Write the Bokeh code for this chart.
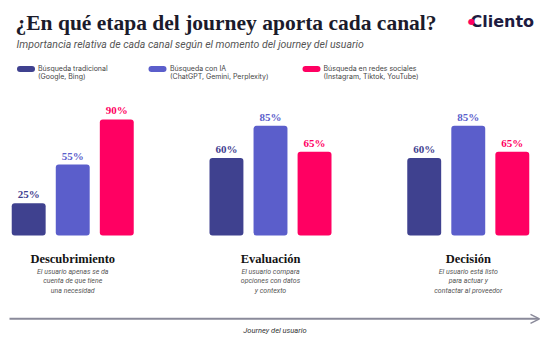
from bokeh.plotting import figure
from bokeh.models import (FactorRange, Range1d, ColumnDataSource, Label,
                          BoxAnnotation, Arrow, OpenHead)
from bokeh.core.properties import value
from bokeh.embed import file_html
from bokeh.resources import INLINE

# ---------------- data ----------------
stages = ["Descubrimiento", "Evaluación", "Decisión"]
channels = ["Búsqueda tradicional", "Búsqueda con IA", "Búsqueda en redes sociales"]
channel_notes = ["(Google, Bing)", "(ChatGPT, Gemini, Perplexity)", "(Instagram, Tiktok, YouTube)"]
trad = [25, 60, 60]
ia = [55, 85, 85]
social = [90, 65, 65]
descriptions = [
    "El usuario apenas se da\ncuenta de que tiene\nuna necesidad",
    "El usuario compara\nopciones con datos\ny contexto",
    "El usuario está listo\npara actuar y\ncontactar al proveedor",
]
title_text = "¿En qué etapa del journey aporta cada canal?"
subtitle_text = "Importancia relativa de cada canal según el momento del journey del usuario"
axis_text = "Journey del usuario"
brand = "Cliento"
colors = ["#3F418F", "#5B5ECB", "#FF0062"]

# ---------------- layout ----------------
W, H = 540, 348
PX = 1.29          # pixels per percentage point
BASE = 235         # baseline position, px from top of figure

def to_val(py):
    return (BASE - py) / PX

def ly(py):
    return H - py

factors = [(s, c) for s in stages for c in channels]
series = [trad, ia, social]
xs, tops, cols, labels = [], [], [], []
for i, s in enumerate(stages):
    for j, c in enumerate(channels):
        xs.append((s, c))
        tops.append(series[j][i])
        cols.append(colors[j])
        labels.append(f"{series[j][i]}%")
src = ColumnDataSource(dict(x=xs, top=tops, color=cols, label=labels))

p = figure(width=W, height=H,
           x_range=FactorRange(*factors, group_padding=1.49, range_padding=0.14,
                               range_padding_units="absolute"),
           y_range=Range1d(to_val(H), to_val(0)),
           output_backend="svg", toolbar_location=None,
           x_axis_location=None, y_axis_location=None,
           min_border_left=0, min_border_right=0, min_border_top=0, min_border_bottom=0)
p.grid.visible = False
p.outline_line_color = None
p.background_fill_color = "white"

p.vbar(x="x", top="top", bottom=0, width=0.77, source=src,
       fill_color="color", line_color=None, border_radius=3)

p.text(x="x", y="top", text="label", source=src, text_color="color",
       text_font=value("Liberation Serif"), text_font_style="bold",
       text_font_size="11px", text_align="center", text_baseline="middle",
       y_offset=-9)

# stage names & descriptions
p.text(x=stages, y=[to_val(258.3)] * 3, text=stages, text_color="#141414",
       text_font=value("Liberation Serif"), text_font_style="bold",
       text_font_size="12.5px", text_align="center", text_baseline="middle")
p.text(x=stages, y=[to_val(281)] * 3, text=descriptions, text_color="#555555",
       text_font=value("Roboto"), text_font_style="italic",
       text_font_size="7px", text_align="center", text_baseline="middle",
       text_line_height=1.2)

# title, subtitle, brand
p.add_layout(Label(x=15, y=ly(22), text=title_text, x_units="screen", y_units="screen",
                   text_font="Liberation Serif", text_font_style="bold",
                   text_font_size="21.5px", text_color="#1B1B2B",
                   text_baseline="middle"))
p.add_layout(Label(x=16, y=ly(44), text=subtitle_text, x_units="screen", y_units="screen",
                   text_font="Roboto", text_font_style="italic",
                   text_font_size="10.5px", text_color="#555555",
                   text_baseline="middle"))
p.add_layout(Label(x=470, y=ly(20.5), text=brand, x_units="screen", y_units="screen",
                   text_font="DejaVu Sans", text_font_style="bold",
                   text_font_size="16px", text_color="#1D1B3F",
                   text_baseline="middle"))
p.add_layout(Label(x=471, y=ly(20.5), text="●", x_units="screen", y_units="screen",
                   text_font="DejaVu Sans", text_font_size="8px", text_color="#FF0062",
                   text_align="center", text_baseline="middle"))

# legend
sw_x = [16.5, 148, 302]
tx_x = [37.5, 169.5, 323]
for j in range(3):
    p.add_layout(BoxAnnotation(left=sw_x[j], right=sw_x[j] + 18,
                               top=ly(65.5), bottom=ly(71.5),
                               left_units="screen", right_units="screen",
                               top_units="screen", bottom_units="screen",
                               fill_color=colors[j], fill_alpha=1, line_color=None,
                               border_radius=3, level="overlay"))
    p.add_layout(Label(x=tx_x[j], y=ly(68), text=channels[j], x_units="screen",
                       y_units="screen", text_font="Inter", text_font_size="7px",
                       text_color="#444444", text_baseline="middle"))
    p.add_layout(Label(x=tx_x[j], y=ly(76), text=channel_notes[j], x_units="screen",
                       y_units="screen", text_font="Inter", text_font_size="7px",
                       text_color="#444444", text_baseline="middle"))

# journey arrow
p.add_layout(Arrow(x_start=9, y_start=ly(318.3), x_end=539, y_end=ly(318.3),
                   start_units="screen", end_units="screen",
                   line_color="#8A8A9A", line_width=2,
                   end=OpenHead(size=9, line_color="#8A8A9A", line_width=1.5)))
p.add_layout(Label(x=274.5, y=ly(330), text=axis_text, x_units="screen", y_units="screen",
                   text_font="Roboto", text_font_style="italic", text_font_size="7.5px",
                   text_color="#333333", text_align="center", text_baseline="middle"))

open("out.html", "w").write(file_html(p, INLINE))
